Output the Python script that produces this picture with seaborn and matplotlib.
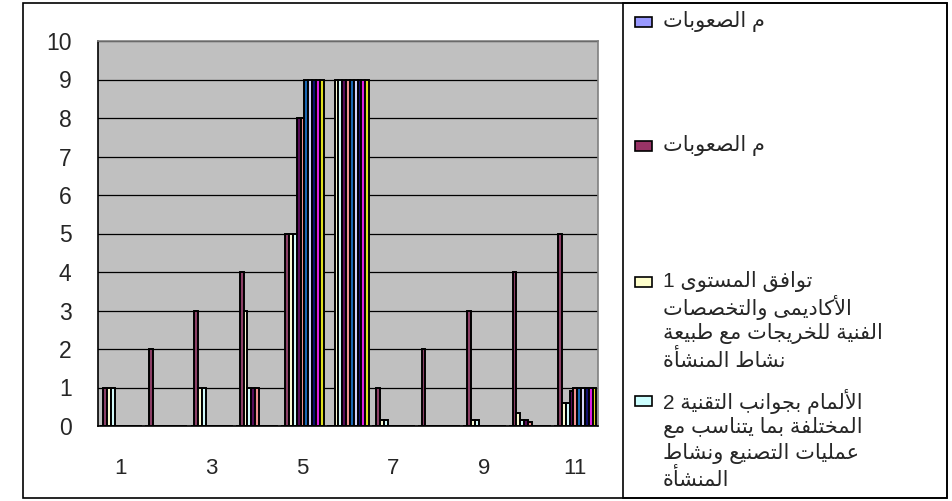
import pandas as pd
import matplotlib
matplotlib.use('Agg')
import matplotlib.pyplot as plt
from matplotlib.patches import Rectangle
import seaborn as sns

categories = ['1', '2', '3', '4', '5', '6', '7', '8', '9', '10', '11']
series_names = ['s1', 's2', 's3', 's4', 's5', 's6', 's7', 's8', 's9', 's10', 's11']
colors = ['#9999FF', '#993366', '#FFFFCC', '#CCFFFF', '#660066', '#FF8080',
          '#0066CC', '#CCCCFF', '#000080', '#FF00FF', '#FFFF00']

s1 = [0, 0, 0, 0, 0, 0, 0, 0, 0, 0, 0]
s2 = [1, 2, 3, 4, 5, 0, 1, 2, 3, 4, 5]
s3 = [1, 0, 1, 3, 5, 9, 0.15, 0, 0.15, 0.35, 0.6]
s4 = [1, 0, 1, 1, 5, 9, 0.15, 0, 0.15, 0.15, 0.6]
s5 = [0, 0, 0, 1, 8, 9, 0, 0, 0, 0.15, 0.9]
s6 = [0, 0, 0, 1, 8, 9, 0, 0, 0, 0.1, 1]
s7 = [0, 0, 0, 0, 9, 9, 0, 0, 0, 0, 1]
s8 = [0, 0, 0, 0, 9, 9, 0, 0, 0, 0, 1]
s9 = [0, 0, 0, 0, 9, 9, 0, 0, 0, 0, 1]
s10 = [0, 0, 0, 0, 9, 9, 0, 0, 0, 0, 1]
s11 = [0, 0, 0, 0, 9, 9, 0, 0, 0, 0, 1]
values = [s1, s2, s3, s4, s5, s6, s7, s8, s9, s10, s11]

legend_labels = [
    ['م الصعوبات'],
    ['م الصعوبات'],
    ['توافق المستوى 1', 'الأكاديمى والتخصصات', 'الفنية للخريجات مع طبيعة', 'نشاط المنشأة'],
    ['الألمام بجوانب التقنية 2', 'المختلفة بما يتناسب مع', 'عمليات التصنيع ونشاط', 'المنشأة'],
]

# arabic presentation forms: isolated, final, initial, medial
FORMS = {
    'ا': (0xFE8D, 0xFE8E, None, None), 'أ': (0xFE83, 0xFE84, None, None),
    'ب': (0xFE8F, 0xFE90, 0xFE91, 0xFE92), 'ة': (0xFE93, 0xFE94, None, None),
    'ت': (0xFE95, 0xFE96, 0xFE97, 0xFE98), 'ج': (0xFE9D, 0xFE9E, 0xFE9F, 0xFEA0),
    'خ': (0xFEA5, 0xFEA6, 0xFEA7, 0xFEA8), 'د': (0xFEA9, 0xFEAA, None, None),
    'ر': (0xFEAD, 0xFEAE, None, None), 'س': (0xFEB1, 0xFEB2, 0xFEB3, 0xFEB4),
    'ش': (0xFEB5, 0xFEB6, 0xFEB7, 0xFEB8), 'ص': (0xFEB9, 0xFEBA, 0xFEBB, 0xFEBC),
    'ط': (0xFEC1, 0xFEC2, 0xFEC3, 0xFEC4), 'ع': (0xFEC9, 0xFECA, 0xFECB, 0xFECC),
    'ف': (0xFED1, 0xFED2, 0xFED3, 0xFED4), 'ق': (0xFED5, 0xFED6, 0xFED7, 0xFED8),
    'ك': (0xFED9, 0xFEDA, 0xFEDB, 0xFEDC), 'ل': (0xFEDD, 0xFEDE, 0xFEDF, 0xFEE0),
    'م': (0xFEE1, 0xFEE2, 0xFEE3, 0xFEE4), 'ن': (0xFEE5, 0xFEE6, 0xFEE7, 0xFEE8),
    'ه': (0xFEE9, 0xFEEA, 0xFEEB, 0xFEEC), 'و': (0xFEED, 0xFEEE, None, None),
    'ى': (0xFEEF, 0xFEF0, None, None), 'ي': (0xFEF1, 0xFEF2, 0xFEF3, 0xFEF4),
}
LAM_ALEF = {'ا': (0xFEFB, 0xFEFC), 'أ': (0xFEF7, 0xFEF8)}


def shape(text):
    # join letters and reverse into visual order (matplotlib has no bidi)
    out = []
    i = 0
    n = len(text)
    while i < n:
        c = text[i]
        if c not in FORMS:
            out.append(c)
            i += 1
            continue
        prev = text[i - 1] if i > 0 else ''
        link_prev = prev in FORMS and FORMS[prev][2] is not None
        if c == 'ل' and i + 1 < n and text[i + 1] in LAM_ALEF:
            iso, fin = LAM_ALEF[text[i + 1]]
            out.append(chr(fin if link_prev else iso))
            i += 2
            continue
        nxt = text[i + 1] if i + 1 < n else ''
        iso, fin, ini, med = FORMS[c]
        link_next = ini is not None and nxt in FORMS
        if link_prev and link_next:
            g = med
        elif link_prev:
            g = fin
        elif link_next:
            g = ini
        else:
            g = iso
        out.append(chr(g))
        i += 1
    return ''.join(out)[::-1]


def main():
    sns.set_style('white')
    plt.rcParams['font.family'] = ['Liberation Sans', 'DejaVu Sans']

    rows = []
    for name, vals in zip(series_names, values):
        for cat, v in zip(categories, vals):
            rows.append({'cat': cat, 'series': name, 'value': v})
    df = pd.DataFrame(rows)

    W, H = 952, 501
    fig = plt.figure(figsize=(W / 100, H / 100), dpi=100)
    fig.patch.set_facecolor('white')
    ax = fig.add_axes([98 / W, 1 - 426 / H, 500 / W, 385 / H])
    ax.set_facecolor('#C0C0C0')

    sns.barplot(data=df, x='cat', y='value', hue='series', order=categories,
                hue_order=series_names, palette=colors, width=0.93, gap=0,
                edgecolor='black', linewidth=1.4, errorbar=None, legend=False, ax=ax)

    ax.set_xlim(-0.5, len(categories) - 0.5)
    ax.set_ylim(0, 10)
    ax.set_yticks(range(0, 11))
    ax.yaxis.grid(True, color='black', linewidth=0.9)
    ax.set_axisbelow(True)
    ax.set_xticks(range(0, len(categories), 2))
    ax.set_xticklabels(categories[::2])
    ax.set_xticks([k - 0.5 for k in range(len(categories) + 1)], minor=True)
    ax.tick_params(axis='x', which='major', length=0, pad=23, labelsize=16)
    ax.tick_params(axis='x', which='minor', length=7, width=1, color='black', direction='out')
    ax.tick_params(axis='y', length=5, width=1, color='black', direction='out', pad=14, labelsize=16.5)
    ax.set_xlabel('')
    ax.set_ylabel('')
    for side in ['left', 'bottom']:
        ax.spines[side].set_color('black')
        ax.spines[side].set_linewidth(1.2)
    for side in ['top', 'right']:
        ax.spines[side].set_color('#808080')
        ax.spines[side].set_linewidth(1.2)

    # chart area frame and legend box
    fig.patches.append(Rectangle((23 / W, 1 - 498 / H), 924 / W, 495 / H, transform=fig.transFigure,
                                 fill=False, edgecolor='black', linewidth=1.2))
    fig.patches.append(Rectangle((623 / W, 1 - 498 / H), 324 / W, 495 / H, transform=fig.transFigure,
                                 fill=False, edgecolor='black', linewidth=1.2))

    entry_tops = [22, 146, 282, 401]
    line_step = 26
    for k, lines in enumerate(legend_labels):
        y0 = entry_tops[k]
        fig.patches.append(Rectangle((635 / W, 1 - (y0 + 5) / H), 17 / W, 10 / H, transform=fig.transFigure,
                                     facecolor=colors[k], edgecolor='black', linewidth=1.2))
        for j, line in enumerate(lines):
            fig.text(663 / W, 1 - (y0 + j * line_step) / H, shape(line), ha='left', va='center',
                     fontsize=15, family=['Liberation Sans', 'DejaVu Sans'])

    plt.savefig('out.png', dpi=100)


if __name__ == '__main__':
    main()
